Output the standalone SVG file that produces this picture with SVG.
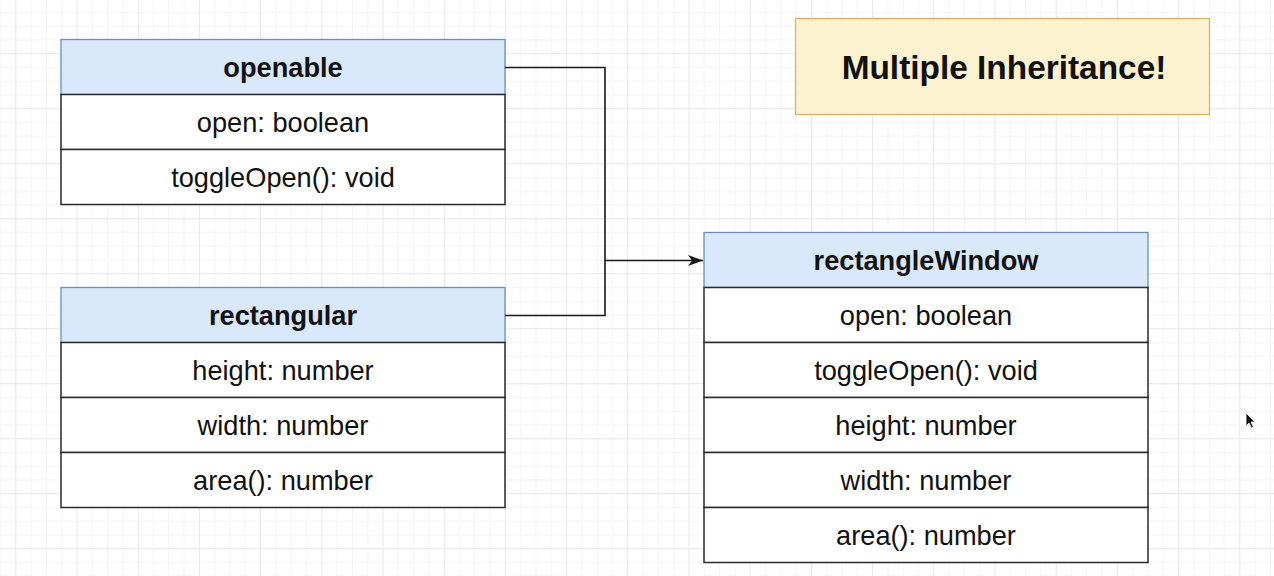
<svg xmlns="http://www.w3.org/2000/svg" width="1274" height="576" viewBox="0 0 1274 576">
  <style>
    .hdr { fill: #dae8fc; stroke: #6c8ebf; stroke-width: 1.3; }
    .row { fill: #ffffff; stroke: #2a2a2a; stroke-width: 1.5; }
    .t { font-family: "Liberation Sans", Arial, Helvetica, sans-serif; font-size: 27.2px; fill: #111; text-anchor: middle; }
    .b { font-weight: bold; }
    .conn { fill: none; stroke: #1a1a1a; stroke-width: 1.6; }
  </style>
  <defs>
    <pattern id="grid" patternUnits="userSpaceOnUse" x="15.3" y="53.3" width="61.2" height="55">
      <rect x="15.3" y="0" width="1" height="55" fill="#f4f4f4"/>
      <rect x="30.6" y="0" width="1" height="55" fill="#f4f4f4"/>
      <rect x="45.9" y="0" width="1" height="55" fill="#f4f4f4"/>
      <rect x="0" y="13.75" width="61.2" height="1" fill="#f4f4f4"/>
      <rect x="0" y="27.5" width="61.2" height="1" fill="#f4f4f4"/>
      <rect x="0" y="41.25" width="61.2" height="1" fill="#f4f4f4"/>
      <rect x="0" y="0" width="1" height="55" fill="#e6e6e6"/>
      <rect x="0" y="0" width="61.2" height="1" fill="#e6e6e6"/>
    </pattern>
    <marker id="arrow" viewBox="0 0 15 11" refX="15" refY="5.5" markerWidth="15" markerHeight="11" markerUnits="userSpaceOnUse" orient="auto">
      <path d="M0,0 L15,5.5 L0,11 L4,5.5 Z" fill="#1a1a1a"/>
    </marker>
  </defs>

  <rect x="0" y="0" width="1274" height="576" fill="#ffffff"/>
  <rect x="0" y="0" width="1274" height="576" fill="url(#grid)"/>

  <g id="title">
    <rect x="795.5" y="18.5" width="414" height="96" fill="#fcf2d0" stroke="#d6b656" stroke-width="1.3"/>
    <text x="1004" y="78.5" class="t b" style="font-size:33.4px">Multiple Inheritance!</text>
  </g>

  <g id="openable">
    <rect class="hdr" x="61" y="39.5" width="444" height="55"/>
    <rect class="row" x="61" y="94.5" width="444" height="55"/>
    <rect class="row" x="61" y="149.5" width="444" height="55"/>
    <text class="t b" x="283" y="77">openable</text>
    <text class="t" x="283" y="131.5">open: boolean</text>
    <text class="t" x="283" y="186.5">toggleOpen(): void</text>
  </g>

  <g id="rectangular">
    <rect class="hdr" x="61" y="287.5" width="444" height="55"/>
    <rect class="row" x="61" y="342.5" width="444" height="55"/>
    <rect class="row" x="61" y="397.5" width="444" height="55"/>
    <rect class="row" x="61" y="452.5" width="444" height="55"/>
    <text class="t b" x="283" y="325">rectangular</text>
    <text class="t" x="283" y="379.5">height: number</text>
    <text class="t" x="283" y="434.5">width: number</text>
    <text class="t" x="283" y="489.5">area(): number</text>
  </g>

  <g id="rectangleWindow">
    <rect class="hdr" x="704" y="232.5" width="444" height="55"/>
    <rect class="row" x="704" y="287.5" width="444" height="55"/>
    <rect class="row" x="704" y="342.5" width="444" height="55"/>
    <rect class="row" x="704" y="397.5" width="444" height="55"/>
    <rect class="row" x="704" y="452.5" width="444" height="55"/>
    <rect class="row" x="704" y="507.5" width="444" height="55"/>
    <text class="t b" x="926" y="270">rectangleWindow</text>
    <text class="t" x="926" y="324.5">open: boolean</text>
    <text class="t" x="926" y="379.5">toggleOpen(): void</text>
    <text class="t" x="926" y="434.5">height: number</text>
    <text class="t" x="926" y="489.5">width: number</text>
    <text class="t" x="926" y="544.5">area(): number</text>
  </g>

  <g id="connectors">
    <path class="conn" d="M505,67.5 H605 V315.5 H505"/>
    <path class="conn" d="M605,260.5 H703" marker-end="url(#arrow)"/>
  </g>

  <g id="cursor">
    <path d="M1246,413 L1246,426 L1249,423 L1251.5,428 L1253.5,427 L1251,422 L1255,422 Z" fill="#111" stroke="#ffffff" stroke-width="0.8"/>
  </g>
</svg>
